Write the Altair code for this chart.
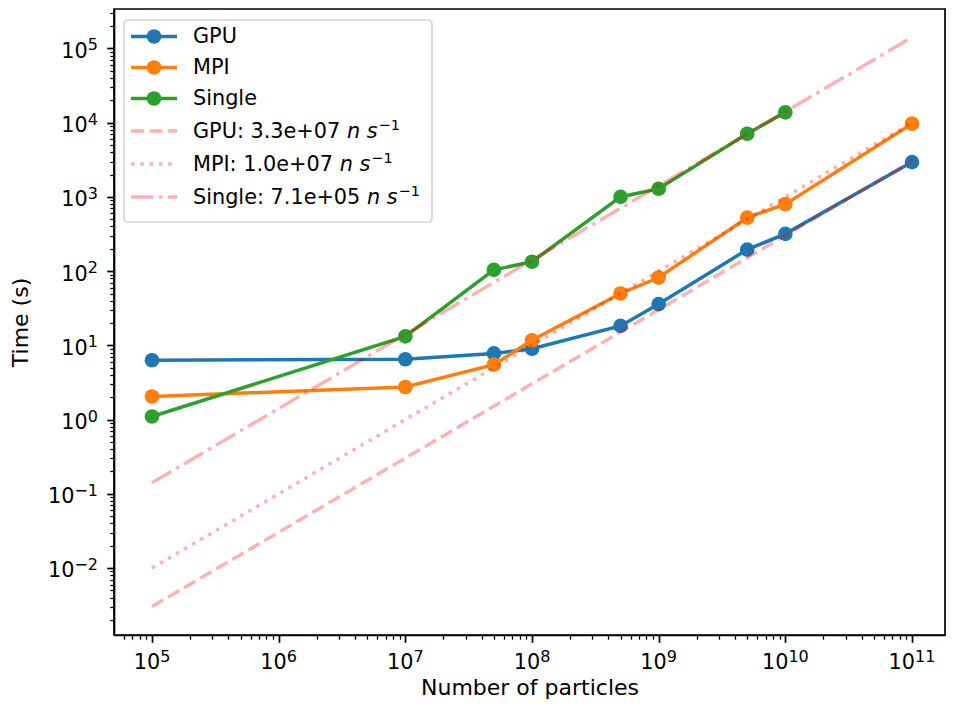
import altair as alt
import pandas as pd

# ---------------- data ----------------
SERIES = ["GPU", "MPI", "Single"]
COLORS = ["#1f77b4", "#ff7f0e", "#2ca02c"]

N_GPU = [1e5, 1e7, 5e7, 1e8, 5e8, 1e9, 5e9, 1e10, 1e11]
T_GPU = [6.3, 6.5, 7.8, 9.0, 18.3, 36.0, 195.0, 318.0, 2950.0]

N_MPI = [1e5, 1e7, 5e7, 1e8, 5e8, 1e9, 5e9, 1e10, 1e11]
T_MPI = [2.05, 2.75, 5.5, 11.7, 50.0, 82.0, 525.0, 800.0, 9700.0]

N_SINGLE = [1e5, 1e7, 5e7, 1e8, 5e8, 1e9, 5e9, 1e10]
T_SINGLE = [1.1, 13.2, 104.0, 134.0, 1000.0, 1290.0, 7100.0, 13800.0]

FIT_N = [1e5, 1e11]
FIT_GPU = [3.03e-3, 3.03e3]
FIT_MPI = [1.0e-2, 1.0e4]
FIT_SINGLE = [1.41e-1, 1.41e5]
FIT_PREFIX = ["GPU: 3.3e+07 ", "MPI: 1.0e+07 ", "Single: 7.1e+05 "]

X_MAJOR_EXP = [5, 6, 7, 8, 9, 10, 11]
Y_MAJOR_EXP = [-2, -1, 0, 1, 2, 3, 4, 5]

# ---------------- layout ----------------
W, H = 831, 626
FONT = "DejaVu Sans"
FS = 20.8
FS_SUP = 16
LW = 3.5
MSIZE = 215
X_DOMAIN = [10 ** 4.7, 10 ** 11.2605]
Y_DOMAIN = [10 ** -2.902, 10 ** 5.532]

# DejaVu Sans advance widths (units per em 2048)
ADV = {" ": 651, ":": 690, ".": 651, "+": 1716, "-": 1716, "e": 1260, "G": 1589, "P": 1235,
       "U": 1499, "M": 1767, "I": 604, "S": 1300, "i": 569, "n": 1298, "g": 1300, "l": 569,
       "s": 1067}


def width(s, size):
    return sum(ADV.get(c, 1303) for c in s) / 2048.0 * size


def minor_values(lo_exp, hi_exp, lo, hi):
    vals = []
    for e in range(lo_exp, hi_exp + 1):
        for m in range(1, 10):
            v = m * 10.0 ** e
            if lo <= v <= hi:
                vals.append(v)
    return vals


LOG = "(log(datum.value)/LN10)"
MAJ = f"abs({LOG} - round({LOG})) < 1e-6"

x_axis = alt.Axis(
    values=minor_values(4, 11, X_DOMAIN[0], X_DOMAIN[1]),
    labels=False,
    title="Number of particles",
    titleY=59, titleBaseline="alphabetic",
    tickSize={"condition": {"test": MAJ, "value": 7.3}, "value": 4.2},
    tickWidth={"condition": {"test": MAJ, "value": 1.7}, "value": 1.25},
)
y_axis = alt.Axis(
    values=minor_values(-3, 5, Y_DOMAIN[0], Y_DOMAIN[1]),
    labels=False,
    title="Time (s)",
    titleX=-94, titleBaseline="middle",
    tickSize={"condition": {"test": MAJ, "value": 7.3}, "value": 4.2},
    tickWidth={"condition": {"test": MAJ, "value": 1.7}, "value": 1.25},
)
xs = alt.Scale(type="log", domain=X_DOMAIN, nice=False)
ys = alt.Scale(type="log", domain=Y_DOMAIN, nice=False)


def X(field):
    return alt.X(field, type="quantitative", scale=xs, axis=x_axis)


def Y(field):
    return alt.Y(field, type="quantitative", scale=ys, axis=y_axis)


layers = []
for name, col, ns, ts in zip(SERIES, COLORS, [N_GPU, N_MPI, N_SINGLE], [T_GPU, T_MPI, T_SINGLE]):
    df = pd.DataFrame({"n": ns, "t": ts, "series": name})
    layers.append(alt.Chart(df).mark_line(color=col, strokeWidth=LW).encode(x=X("n"), y=Y("t")))
    layers.append(alt.Chart(df).mark_circle(color=col, size=MSIZE, opacity=1)
                  .encode(x=X("n"), y=Y("t")))

DASHES = [[13, 5.6], [3.5, 5.8], [22.4, 5.6, 3.5, 5.6]]
for fit, dash in zip([FIT_GPU, FIT_MPI, FIT_SINGLE], DASHES):
    df = pd.DataFrame({"n": FIT_N, "t": fit})
    layers.append(alt.Chart(df).mark_line(color="#ff0000", strokeOpacity=0.3,
                                          strokeWidth=LW, strokeDash=dash)
                  .encode(x=X("n"), y=Y("t")))

# ---------------- tick labels: "10" with a raised exponent ----------------
SUP_RAISE = 7.5


def exp_str(k):
    return str(k).replace("-", "\u2212")


# x axis: labels centred under their ticks
X_LAB_BASE = H + 1 + 34 - 1  # baseline below the plot
for group in [[k for k in X_MAJOR_EXP if len(str(k)) == 1], [k for k in X_MAJOR_EXP if len(str(k)) == 2]]:
    df = pd.DataFrame({"v": [10.0 ** k for k in group], "e": [exp_str(k) for k in group]})
    w10 = width("10", FS)
    we = width(str(group[0]), FS_SUP)
    left = -(w10 + we) / 2
    layers.append(alt.Chart(df).mark_text(text="10", align="left", baseline="alphabetic", font=FONT,
                                          fontSize=FS, color="black", dx=left)
                  .encode(x=X("v"), y=alt.value(X_LAB_BASE)))
    layers.append(alt.Chart(df).mark_text(align="left", baseline="alphabetic", font=FONT,
                                          fontSize=FS_SUP, color="black", dx=left + w10)
                  .encode(x=X("v"), y=alt.value(X_LAB_BASE - SUP_RAISE), text="e:N"))

# y axis: labels right-aligned left of their ticks
Y_LAB_RIGHT = -16
for group in [[k for k in Y_MAJOR_EXP if k < 0], [k for k in Y_MAJOR_EXP if k >= 0]]:
    df = pd.DataFrame({"v": [10.0 ** k for k in group], "e": [exp_str(k) for k in group]})
    we = width(str(group[0]), FS_SUP)
    layers.append(alt.Chart(df).mark_text(text="10", align="right", baseline="alphabetic", font=FONT,
                                          fontSize=FS, color="black", dy=9.4)
                  .encode(x=alt.value(Y_LAB_RIGHT - we), y=Y("v")))
    layers.append(alt.Chart(df).mark_text(align="right", baseline="alphabetic", font=FONT,
                                          fontSize=FS_SUP, color="black", dy=9.4 - SUP_RAISE)
                  .encode(x=alt.value(Y_LAB_RIGHT), y=Y("v"), text="e:N"))

# ---------------- legend (drawn by hand, like matplotlib's) ----------------
ONE = pd.DataFrame({"k": [0]})
layers.append(alt.Chart(ONE).mark_rect(cornerRadius=4, fill="white", fillOpacity=0.8,
                                       stroke="#cccccc", strokeOpacity=0.8, strokeWidth=1.7)
              .encode(x=alt.value(10), x2=alt.value(318), y=alt.value(11), y2=alt.value(213)))

BASE = [34, 65, 96, 128.5, 161.5, 194.5]
HX0, HX1, HMID, TX = 17, 63, 40, 79


def text_layer(txt, x, y, size=FS, style="normal"):
    return alt.Chart(ONE).mark_text(text=txt, align="left", baseline="alphabetic", font=FONT,
                                    fontSize=size, fontStyle=style, color="black").encode(
        x=alt.value(x), y=alt.value(y))


for i, (name, col) in enumerate(zip(SERIES, COLORS)):
    hy = BASE[i] - 6.5
    layers.append(alt.Chart(ONE).mark_rule(color=col, strokeWidth=LW)
                  .encode(x=alt.value(HX0), x2=alt.value(HX1), y=alt.value(hy)))
    layers.append(alt.Chart(ONE).mark_circle(color=col, size=MSIZE, opacity=1)
                  .encode(x=alt.value(HMID), y=alt.value(hy)))
    layers.append(text_layer(name, TX, BASE[i]))

for j, (pre, dash) in enumerate(zip(FIT_PREFIX, DASHES)):
    by = BASE[3 + j]
    hy = by - 6.5
    layers.append(alt.Chart(ONE).mark_rule(color="#ff0000", strokeOpacity=0.3, strokeWidth=LW,
                                           strokeDash=dash)
                  .encode(x=alt.value(HX0), x2=alt.value(HX1), y=alt.value(hy)))
    layers.append(text_layer(pre, TX, by))
    xi = TX + width(pre, FS)
    layers.append(text_layer("n s", xi, by, style="italic"))
    xs2 = xi + width("n s", FS) + 1
    layers.append(text_layer("\u22121", xs2, by - 8, size=FS * 0.7))

chart = alt.layer(*layers).properties(
    width=W, height=H,
    padding={"left": 106, "top": 1, "right": 1, "bottom": 64},
    autosize=alt.AutoSizeParams(type="none"),
).configure(background="white").configure_view(
    stroke="black", strokeWidth=1.7
).configure_axis(
    grid=False, domainColor="black", domainWidth=1.7, tickColor="black",
    titleFont=FONT, titleFontSize=22, titleFontWeight="normal", titleColor="black",
)

chart.save("out.html", embed_options={"renderer": "svg", "actions": False})
